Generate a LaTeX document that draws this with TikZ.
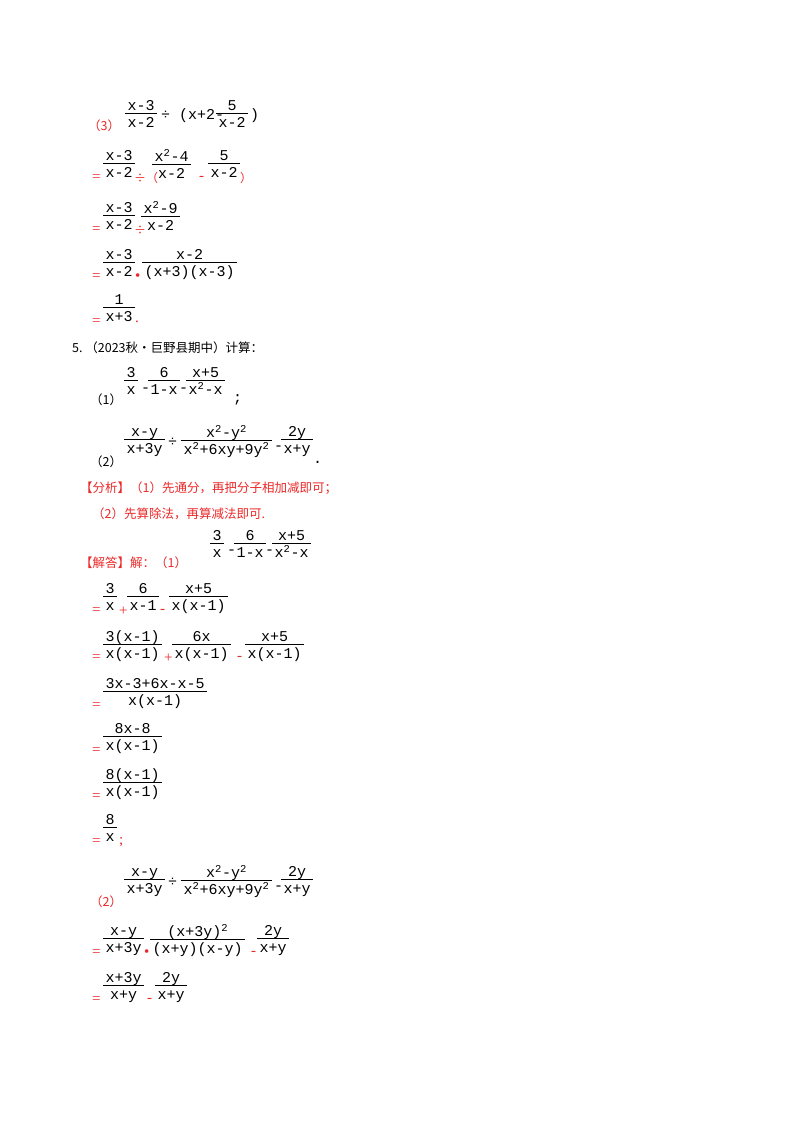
\documentclass[tikz,border=0pt]{standalone}
\usepackage{fontspec}
\setmainfont{Liberation Serif}
\setmonofont{Liberation Mono}
\newfontfamily\cjk{Noto Sans CJK SC}
\definecolor{rd}{RGB}{235,40,40}
\newcommand\fr[2]{\begin{tabular}{@{\,}c@{\,}}#1\\[-2pt]\hline\rule{0pt}{14pt}#2\end{tabular}}
\newcommand\sq{\textsuperscript{2}}
\begin{document}
\begin{tikzpicture}[x=1pt,y=-1pt,
  f/.style={anchor=west,inner sep=0pt,font=\fontsize{15}{15}\selectfont\ttfamily},
  r/.style={anchor=west,inner sep=0pt,text=rd,font=\fontsize{15}{16}\selectfont},
  rc/.style={anchor=west,inner sep=0pt,text=rd,font=\fontsize{12}{14}\selectfont\cjk},
  t/.style={anchor=west,inner sep=0pt,font=\fontsize{12.5}{14}\selectfont\cjk},
  rt/.style={anchor=west,inner sep=0pt,text=rd,font=\fontsize{12.5}{14}\selectfont\cjk}]
\useasboundingbox (0,0) rectangle (800,1132);
% (3)
\node[rt] (p3) at (88,126) {（3）};
\node[f] (a1) at (125,116) {\fr{x-3}{x-2}};
\node[f] (a2) at (161,116) {÷ (x+2-};
\node[f] (a3) at (216,116) {\fr{5}{x-2}};
\node[f] (a4) at (250,116) {)};
\node[r] (b0) at (92,178) {=};
\node[f] (b1) at (103,166) {\fr{x-3}{x-2}};
\node[rc] (b2) at (134,178) {÷（};
\node[f] (b3) at (152,166) {\fr{x\sq-4}{x-2}};
\node[r] (b4) at (199,178) {-};
\node[f] (b5) at (208,166) {\fr{5}{x-2}};
\node[rc] (b6) at (240,178) {）};
\node[r] (c0) at (92,230) {=};
\node[f] (c1) at (103,218) {\fr{x-3}{x-2}};
\node[rc] (c2) at (134,230) {÷};
\node[f] (c3) at (141,218) {\fr{x\sq-9}{x-2}};
\node[r] (d0) at (92,277) {=};
\node[f] (d1) at (103,265) {\fr{x-3}{x-2}};
\node[r] (d2) at (135,277) {•};
\node[f] (d3) at (142,265) {\fr{x-2}{(x+3)(x-3)}};
\node[r] (e0) at (92,322) {=};
\node[f] (e1) at (103,310) {\fr{1}{x+3}};
\node[r] (e2) at (135,322) {.};
% 5
\node[t] (q5) at (72,348) {5.\ （2023秋•巨野县期中）计算：};
\node[t] (q1) at (90,400) {（1）};
\node[f] (g1) at (124,383) {\fr{3}{x}};
\node[f] (g2) at (141,390) {-};
\node[f] (g3) at (148,383) {\fr{6}{1-x}};
\node[f] (g4) at (179,390) {-};
\node[f] (g5) at (186,383) {\fr{x+5}{x\sq-x}};
\node[f] (g6) at (233,400) {;};
\node[t] (q2) at (90,462) {（2）};
\node[f] (h1) at (124,442) {\fr{x-y}{x+3y}};
\node[f] (h2) at (168,442) {÷};
\node[f] (h3) at (181,442) {\fr{x\sq-y\sq}{x\sq+6xy+9y\sq}};
\node[f] (h4) at (274,448) {-};
\node[f] (h5) at (281,442) {\fr{2y}{x+y}};
\node[f] (h6) at (313,462) {.};
\node[rt] (an1) at (80,488) {【分析】（1）先通分，再把分子相加减即可；};
\node[rt] (an2) at (92,514) {（2）先算除法，再算减法即可.};
\node[rt] (jd) at (80,563) {【解答】解：（1）};
\node[f] (i1) at (210,546) {\fr{3}{x}};
\node[f] (i2) at (227,552) {-};
\node[f] (i3) at (234,546) {\fr{6}{1-x}};
\node[f] (i4) at (265,552) {-};
\node[f] (i5) at (272,546) {\fr{x+5}{x\sq-x}};
% solution 1
\node[r] (j0) at (92,611) {=};
\node[f] (j1) at (103,599) {\fr{3}{x}};
\node[r] (j2) at (119,611) {+};
\node[f] (j3) at (127,599) {\fr{6}{x-1}};
\node[r] (j4) at (160,611) {-};
\node[f] (j5) at (169,599) {\fr{x+5}{x(x-1)}};
\node[r] (k0) at (92,658) {=};
\node[f] (k1) at (103,647) {\fr{3(x-1)}{x(x-1)}};
\node[r] (k2) at (164,658) {+};
\node[f] (k3) at (172,647) {\fr{6x}{x(x-1)}};
\node[r] (k4) at (237,658) {-};
\node[f] (k5) at (245,647) {\fr{x+5}{x(x-1)}};
\node[r] (l0) at (92,706) {=};
\node[f] (l1) at (103,694) {\fr{3x-3+6x-x-5}{x(x-1)}};
\node[r] (m0) at (92,751) {=};
\node[f] (m1) at (103,739) {\fr{8x-8}{x(x-1)}};
\node[r] (n0) at (92,797) {=};
\node[f] (n1) at (103,785) {\fr{8(x-1)}{x(x-1)}};
\node[r] (o0) at (92,842) {=};
\node[f] (o1) at (103,830) {\fr{8}{x}};
\node[r] (o2) at (119,842) {;};
% solution 2
\node[rt] (s2) at (90,902) {（2）};
\node[f] (u1) at (124,882) {\fr{x-y}{x+3y}};
\node[f] (u2) at (168,882) {÷};
\node[f] (u3) at (181,882) {\fr{x\sq-y\sq}{x\sq+6xy+9y\sq}};
\node[f] (u4) at (274,888) {-};
\node[f] (u5) at (281,882) {\fr{2y}{x+y}};
\node[r] (v0) at (92,953) {=};
\node[f] (v1) at (103,941) {\fr{x-y}{x+3y}};
\node[r] (v2) at (144,953) {•};
\node[f] (v3) at (150,941) {\fr{(x+3y)\sq}{(x+y)(x-y)}};
\node[r] (v4) at (251,953) {-};
\node[f] (v5) at (257,941) {\fr{2y}{x+y}};
\node[r] (w0) at (92,1000) {=};
\node[f] (w1) at (103,988) {\fr{x+3y}{x+y}};
\node[r] (w2) at (147,1000) {-};
\node[f] (w3) at (155,988) {\fr{2y}{x+y}};
\end{tikzpicture}
\end{document}
